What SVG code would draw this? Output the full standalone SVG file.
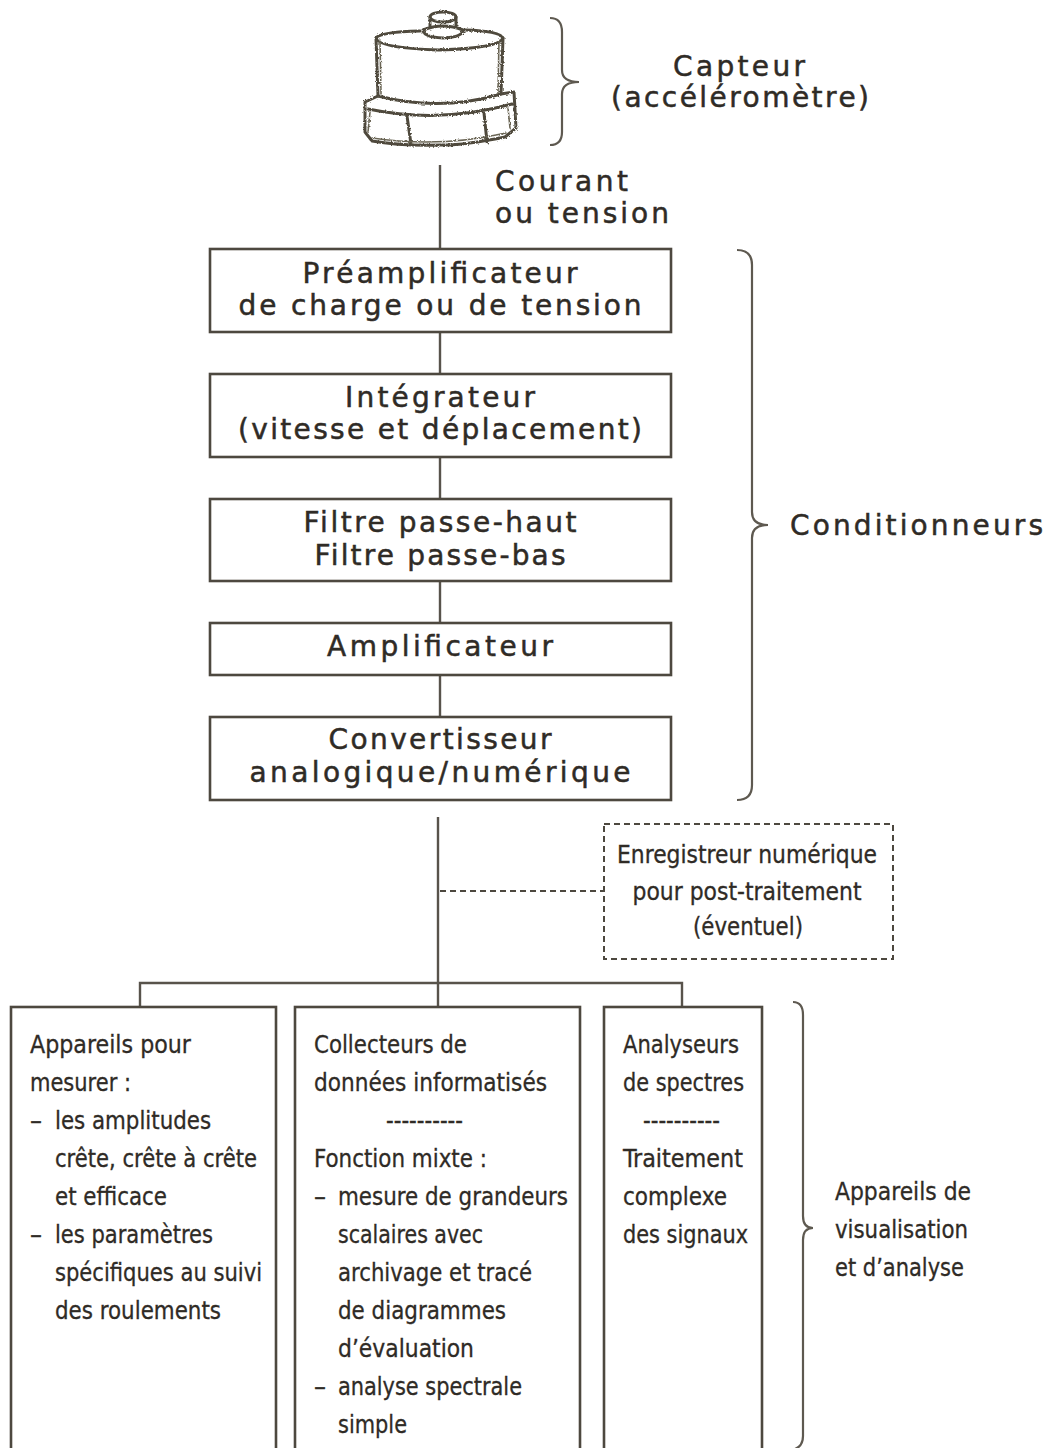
<svg xmlns="http://www.w3.org/2000/svg" width="1046" height="1448" viewBox="0 0 1046 1448">
<style>
.ln{fill:none;stroke:#58534b;stroke-width:2.4}
.bx{fill:#fff;stroke:#4d483f;stroke-width:2.6}
.dsh{fill:none;stroke:#4d483f;stroke-width:2;stroke-dasharray:6 4}
.br{fill:none;stroke:#5e5950;stroke-width:2.2}
.w{font-family:"DejaVu Sans","Verdana",sans-serif;font-size:28px;fill:#2f2b26;stroke:#2f2b26;stroke-width:0.5}
.c{font-family:"Liberation Sans Narrow","DejaVu Sans Condensed","Liberation Sans",sans-serif;font-size:25px;fill:#2f2b26;stroke:#2f2b26;stroke-width:0.3}
.m{text-anchor:middle}
.sk{fill:none;stroke:#4f4a3c;stroke-width:3;stroke-linecap:round;stroke-linejoin:round}
.sk2{fill:none;stroke:#6a6554;stroke-width:1.6;stroke-linecap:round;stroke-linejoin:round}
</style>
<defs>
<filter id="rough" x="-10%" y="-10%" width="120%" height="120%">
<feTurbulence type="fractalNoise" baseFrequency="0.6" numOctaves="2" seed="3"/>
<feDisplacementMap in="SourceGraphic" scale="3"/>
</filter>
</defs>
<rect width="1046" height="1448" fill="#fff"/>

<g id="sensor" filter="url(#rough)">
<ellipse class="sk" cx="443" cy="17" rx="13" ry="5"/>
<path class="sk" d="M430,17 L430,26 M456,17 L456,26"/>
<path class="sk" d="M423,30 Q443,22 463,30 Q463,37 443,38 Q423,37 423,30 Z"/>
<path class="sk" d="M420,31 Q380,32 376,38 Q378,48 439,50 Q500,48 503,38 Q500,31 465,30"/>
<path class="sk" d="M376,38 L378,96 M503,38 L501,94"/>
<path class="sk2" d="M380,40 L381,94 M499,40 L498,93"/>
<path class="sk" d="M365,102 L378,96 Q440,112 501,94 L514,92 L516,128 L505,137 Q460,146 440,145 Q400,146 372,141 L365,132 Z"/>
<path class="sk" d="M368,109 Q440,124 512,104"/>
<path class="sk" d="M407,116 L411,144 M484,113 L487,142"/>
<path class="sk2" d="M370,112 L368,132 M508,108 L510,128 M372,138 Q440,148 506,133"/>
</g>
<g id="sensor-label">
<path class="br" d="M550,18 Q562,18 562,32 L562,70 Q562,82 579,82 Q562,82 562,94 L562,132 Q562,145 550,145"/>
<text class="w" x="673" y="76" textLength="132">Capteur</text>
<text class="w" x="611" y="107" textLength="258">(accéléromètre)</text>
</g>

<g id="connectors">
<line class="ln" x1="440" y1="165" x2="440" y2="249"/>
<line class="ln" x1="440" y1="332" x2="440" y2="374"/>
<line class="ln" x1="440" y1="457" x2="440" y2="499"/>
<line class="ln" x1="440" y1="581" x2="440" y2="623"/>
<line class="ln" x1="440" y1="675" x2="440" y2="717"/>
<line class="ln" x1="438" y1="817" x2="438" y2="1007"/>
<polyline class="ln" points="140,1007 140,983 682,983 682,1007"/>
<line class="dsh" x1="440" y1="891" x2="603" y2="891"/>
</g>
<g id="signal-label">
<text class="w" x="495" y="191" textLength="133">Courant</text>
<text class="w" x="495" y="223" textLength="174">ou tension</text>
</g>

<g id="preamp">
<rect class="bx" x="210" y="249" width="461" height="83"/>
<text class="w m" x="440" y="283" textLength="275">Préamplificateur</text>
<text class="w m" x="440" y="315" textLength="403">de charge ou de tension</text>
</g>
<g id="integrateur">
<rect class="bx" x="210" y="374" width="461" height="83"/>
<text class="w m" x="440" y="407" textLength="190">Intégrateur</text>
<text class="w m" x="440" y="439" textLength="404">(vitesse et déplacement)</text>
</g>
<g id="filtre">
<rect class="bx" x="210" y="499" width="461" height="82"/>
<text class="w m" x="440" y="532" textLength="273">Filtre passe-haut</text>
<text class="w m" x="440" y="565" textLength="251">Filtre passe-bas</text>
</g>
<g id="amplificateur">
<rect class="bx" x="210" y="623" width="461" height="52"/>
<text class="w m" x="440" y="656" textLength="226">Amplificateur</text>
</g>
<g id="convertisseur">
<rect class="bx" x="210" y="717" width="461" height="83"/>
<text class="w m" x="440" y="749" textLength="223">Convertisseur</text>
<text class="w m" x="440" y="782" textLength="381">analogique/numérique</text>
</g>
<g id="conditionneurs">
<path class="br" d="M737,250 Q752,250 752,265 L752,512 Q752,525 768,525 Q752,525 752,538 L752,785 Q752,800 737,800"/>
<text class="w" x="790" y="535" textLength="253">Conditionneurs</text>
</g>

<g id="enregistreur">
<rect class="dsh" x="604" y="824" width="289" height="135"/>
<text class="c m" x="747" y="863" textLength="260" lengthAdjust="spacingAndGlyphs">Enregistreur numérique</text>
<text class="c m" x="747" y="900" textLength="229" lengthAdjust="spacingAndGlyphs">pour post-traitement</text>
<text class="c m" x="748" y="935" textLength="110" lengthAdjust="spacingAndGlyphs">(éventuel)</text>
</g>

<g id="appareils-mesure">
<rect class="bx" x="11" y="1007" width="265" height="460"/>
<text class="c" x="30" y="1053" textLength="161" lengthAdjust="spacingAndGlyphs">Appareils pour</text>
<text class="c" x="30" y="1091" textLength="101" lengthAdjust="spacingAndGlyphs">mesurer :</text>
<text class="c" x="30" y="1129" textLength="12" lengthAdjust="spacingAndGlyphs">–</text>
<text class="c" x="55" y="1129" textLength="156" lengthAdjust="spacingAndGlyphs">les amplitudes</text>
<text class="c" x="55" y="1167" textLength="202" lengthAdjust="spacingAndGlyphs">crête, crête à crête</text>
<text class="c" x="55" y="1205" textLength="112" lengthAdjust="spacingAndGlyphs">et efficace</text>
<text class="c" x="30" y="1243" textLength="12" lengthAdjust="spacingAndGlyphs">–</text>
<text class="c" x="55" y="1243" textLength="158" lengthAdjust="spacingAndGlyphs">les paramètres</text>
<text class="c" x="55" y="1281" textLength="207" lengthAdjust="spacingAndGlyphs">spécifiques au suivi</text>
<text class="c" x="55" y="1319" textLength="166" lengthAdjust="spacingAndGlyphs">des roulements</text>
</g>

<g id="collecteurs">
<rect class="bx" x="295" y="1007" width="285" height="460"/>
<text class="c" x="314" y="1053" textLength="153" lengthAdjust="spacingAndGlyphs">Collecteurs de</text>
<text class="c" x="314" y="1091" textLength="233" lengthAdjust="spacingAndGlyphs">données informatisés</text>
<text class="c" x="386" y="1129" textLength="77" lengthAdjust="spacingAndGlyphs">----------</text>
<text class="c" x="314" y="1167" textLength="173" lengthAdjust="spacingAndGlyphs">Fonction mixte :</text>
<text class="c" x="314" y="1205" textLength="12" lengthAdjust="spacingAndGlyphs">–</text>
<text class="c" x="338" y="1205" textLength="230" lengthAdjust="spacingAndGlyphs">mesure de grandeurs</text>
<text class="c" x="338" y="1243" textLength="145" lengthAdjust="spacingAndGlyphs">scalaires avec</text>
<text class="c" x="338" y="1281" textLength="194" lengthAdjust="spacingAndGlyphs">archivage et tracé</text>
<text class="c" x="338" y="1319" textLength="168" lengthAdjust="spacingAndGlyphs">de diagrammes</text>
<text class="c" x="338" y="1357" textLength="136" lengthAdjust="spacingAndGlyphs">d’évaluation</text>
<text class="c" x="314" y="1395" textLength="12" lengthAdjust="spacingAndGlyphs">–</text>
<text class="c" x="338" y="1395" textLength="184" lengthAdjust="spacingAndGlyphs">analyse spectrale</text>
<text class="c" x="338" y="1433" textLength="69" lengthAdjust="spacingAndGlyphs">simple</text>
</g>

<g id="analyseurs">
<rect class="bx" x="604" y="1007" width="158" height="460"/>
<text class="c" x="623" y="1053" textLength="116" lengthAdjust="spacingAndGlyphs">Analyseurs</text>
<text class="c" x="623" y="1091" textLength="121" lengthAdjust="spacingAndGlyphs">de spectres</text>
<text class="c" x="643" y="1129" textLength="77" lengthAdjust="spacingAndGlyphs">----------</text>
<text class="c" x="623" y="1167" textLength="120" lengthAdjust="spacingAndGlyphs">Traitement</text>
<text class="c" x="623" y="1205" textLength="104" lengthAdjust="spacingAndGlyphs">complexe</text>
<text class="c" x="623" y="1243" textLength="125" lengthAdjust="spacingAndGlyphs">des signaux</text>
</g>

<g id="visualisation">
<path class="br" d="M793,1002 Q803,1002 803,1015 L803,1216 Q803,1228 813,1228 Q803,1228 803,1240 L803,1436 Q803,1446 795,1449"/>
<text class="c" x="835" y="1200" textLength="136" lengthAdjust="spacingAndGlyphs">Appareils de</text>
<text class="c" x="835" y="1238" textLength="133" lengthAdjust="spacingAndGlyphs">visualisation</text>
<text class="c" x="835" y="1276" textLength="129" lengthAdjust="spacingAndGlyphs">et d’analyse</text>
</g>
</svg>
